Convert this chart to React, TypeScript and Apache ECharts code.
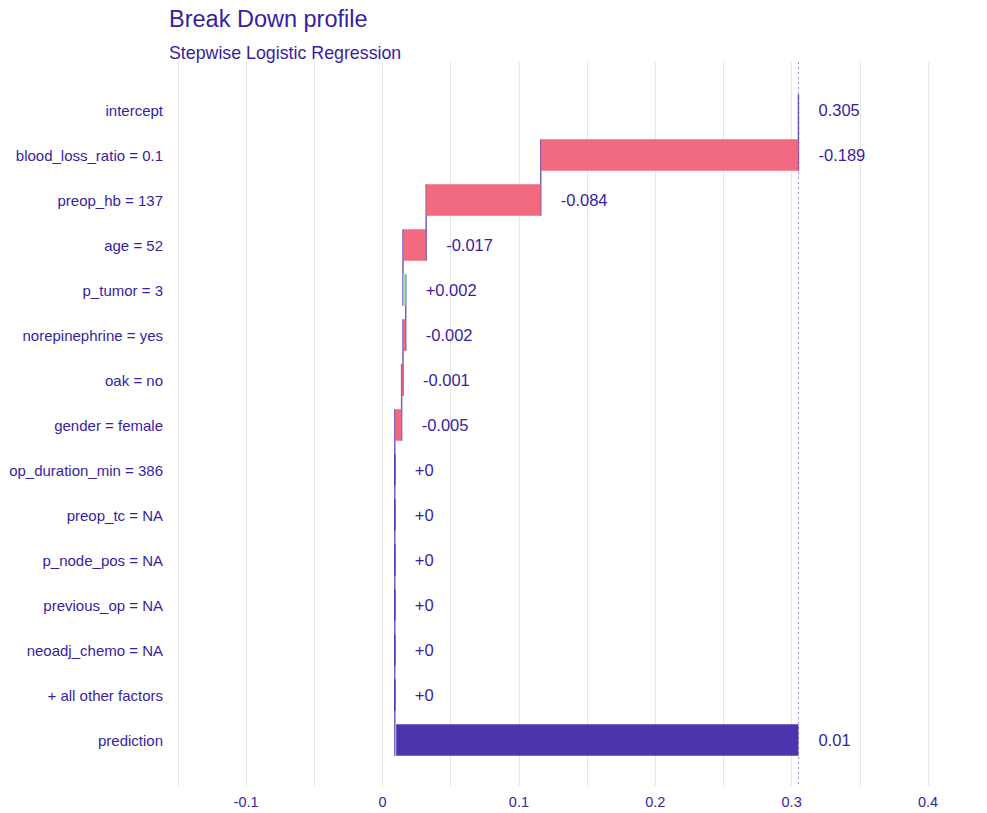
import React, { useEffect, useRef } from "react";
import * as echarts from "echarts";

// Break-down of a single prediction: baseline, per-variable contributions, final prediction
const variables = [
  "intercept",
  "blood_loss_ratio = 0.1",
  "preop_hb = 137",
  "age = 52",
  "p_tumor = 3",
  "norepinephrine = yes",
  "oak = no",
  "gender = female",
  "op_duration_min = 386",
  "preop_tc = NA",
  "p_node_pos = NA",
  "previous_op = NA",
  "neoadj_chemo = NA",
  "+ all other factors",
  "prediction",
];
const intercept = 0.305;
const contributions = [-0.189, -0.084, -0.017, 0.002, -0.002, -0.001, -0.005, 0, 0, 0, 0, 0, 0];
const prediction = 0.01;
const xMin = -0.15;
const xMax = 0.4;
const xStep = 0.05;

const INK = "#371ea3";
const NEG = "#f05a71";
const POS = "#8bdcbe";
const FONT = '"Liberation Sans", Arial, Helvetica, sans-serif';

type Row = { start: number; end: number; kind: "base" | "neg" | "pos" | "pred"; label: string };

function buildRows(): { rows: Row[]; cumulative: number[] } {
  const rows: Row[] = [];
  const cumulative: number[] = [];
  rows.push({ start: intercept, end: intercept, kind: "base", label: String(intercept) });
  cumulative.push(intercept);
  let acc = intercept;
  contributions.forEach((c) => {
    const next = acc + c;
    rows.push({
      start: acc,
      end: next,
      kind: c < 0 ? "neg" : "pos",
      label: c < 0 ? String(c) : "+" + String(c),
    });
    cumulative.push(next);
    acc = next;
  });
  rows.push({ start: intercept, end: prediction, kind: "pred", label: String(prediction) });
  return { rows, cumulative };
}

export default function App() {
  const ref = useRef<HTMLDivElement>(null);

  useEffect(() => {
    if (!ref.current) return;
    const chart = echarts.init(ref.current, undefined, { renderer: "svg" });
    const { rows, cumulative } = buildRows();

    const fillFor = (kind: Row["kind"]) =>
      kind === "neg" ? NEG : kind === "pos" ? POS : INK;

    const tickFormatter = (v: number) => {
      const k = Math.round(v * 100);
      if (k % 10 !== 0) return "";
      return String(k / 100);
    };

    chart.setOption({
      animation: false,
      title: {
        text: "Break Down profile",
        subtext: "Stepwise Logistic Regression",
        left: 169,
        top: 5,
        padding: 0,
        itemGap: 9,
        textStyle: {
          color: INK,
          fontSize: 23.5,
          fontWeight: "normal",
          fontFamily: FONT,
          lineHeight: 28,
        },
        subtextStyle: {
          color: INK,
          fontSize: 17.8,
          fontFamily: FONT,
          lineHeight: 22,
        },
      },
      grid: [
        { left: 178, right: 59, top: 62, bottom: 27 },
        { left: 178, right: 59, top: 87.5, height: 675 },
      ],
      xAxis: [
        {
          gridIndex: 0,
          type: "value",
          min: xMin,
          max: xMax,
          interval: xStep,
          axisLine: { show: false },
          axisTick: { show: false },
          splitLine: { show: true, lineStyle: { color: "#e6e6e6", width: 1 } },
          axisLabel: {
            color: INK,
            fontSize: 14.5,
            fontFamily: FONT,
            margin: 8,
            formatter: tickFormatter,
          },
        },
        {
          gridIndex: 1,
          type: "value",
          min: xMin,
          max: xMax,
          show: false,
        },
      ],
      yAxis: [
        { gridIndex: 0, type: "value", min: 0, max: 1, show: false },
        {
          gridIndex: 1,
          type: "category",
          inverse: true,
          data: variables,
          axisLine: { show: false },
          axisTick: { show: false },
          splitLine: { show: false },
          axisLabel: {
            color: INK,
            fontSize: 15,
            fontFamily: FONT,
            margin: 15,
          },
        },
      ],
      series: [
        {
          // dotted reference line at the intercept
          type: "custom",
          xAxisIndex: 0,
          yAxisIndex: 0,
          silent: true,
          data: [[intercept, 0]],
          renderItem: (params: any, api: any) => {
            const cs = params.coordSys;
            const x = api.coord([api.value(0), 0])[0];
            return {
              type: "line",
              shape: { x1: x, y1: cs.y, x2: x, y2: cs.y + cs.height },
              style: { stroke: INK, lineWidth: 1, lineDash: [2, 3], opacity: 0.5 },
            };
          },
        },
        {
          // connectors between consecutive steps
          type: "custom",
          xAxisIndex: 1,
          yAxisIndex: 1,
          silent: true,
          data: cumulative.map((c, i) => [c, i]),
          encode: { x: 0, y: 1 },
          renderItem: (params: any, api: any) => {
            const p = api.coord([api.value(0), api.value(1)]);
            const band = api.size([0, 1])[1];
            return {
              type: "line",
              shape: {
                x1: p[0],
                y1: p[1] - band * 0.35,
                x2: p[0],
                y2: p[1] + band * 1.35,
              },
              style: { stroke: INK, lineWidth: 1.5, opacity: 0.7 },
            };
          },
        },
        {
          // step bars with value labels
          type: "custom",
          xAxisIndex: 1,
          yAxisIndex: 1,
          silent: true,
          data: rows.map((r, i) => [r.start, r.end, i]),
          encode: { x: [0, 1], y: 2 },
          renderItem: (params: any, api: any) => {
            const row = rows[params.dataIndex];
            const idx = api.value(2);
            const a = api.coord([api.value(0), idx]);
            const b = api.coord([api.value(1), idx]);
            const band = api.size([0, 1])[1];
            const h = band * 0.7;
            const x0 = Math.min(a[0], b[0]);
            const x1 = Math.max(a[0], b[0]);
            const children: any[] = [];
            if (x1 - x0 > 0.05) {
              children.push({
                type: "rect",
                shape: { x: x0, y: a[1] - h / 2, width: x1 - x0, height: h },
                style: { fill: fillFor(row.kind), opacity: 0.9 },
              });
            }
            children.push({
              type: "text",
              x: x1 + 20,
              y: a[1],
              style: {
                text: row.label,
                fill: INK,
                font: `16.5px ${FONT}`,
                textAlign: "left",
                textVerticalAlign: "middle",
              },
            });
            return { type: "group", children };
          },
        },
      ],
    });

    return () => chart.dispose();
  }, []);

  return (
    <div
      ref={ref}
      style={{ position: "absolute", left: 0, top: 0, width: 987, height: 813, background: "#fff" }}
    />
  );
}
